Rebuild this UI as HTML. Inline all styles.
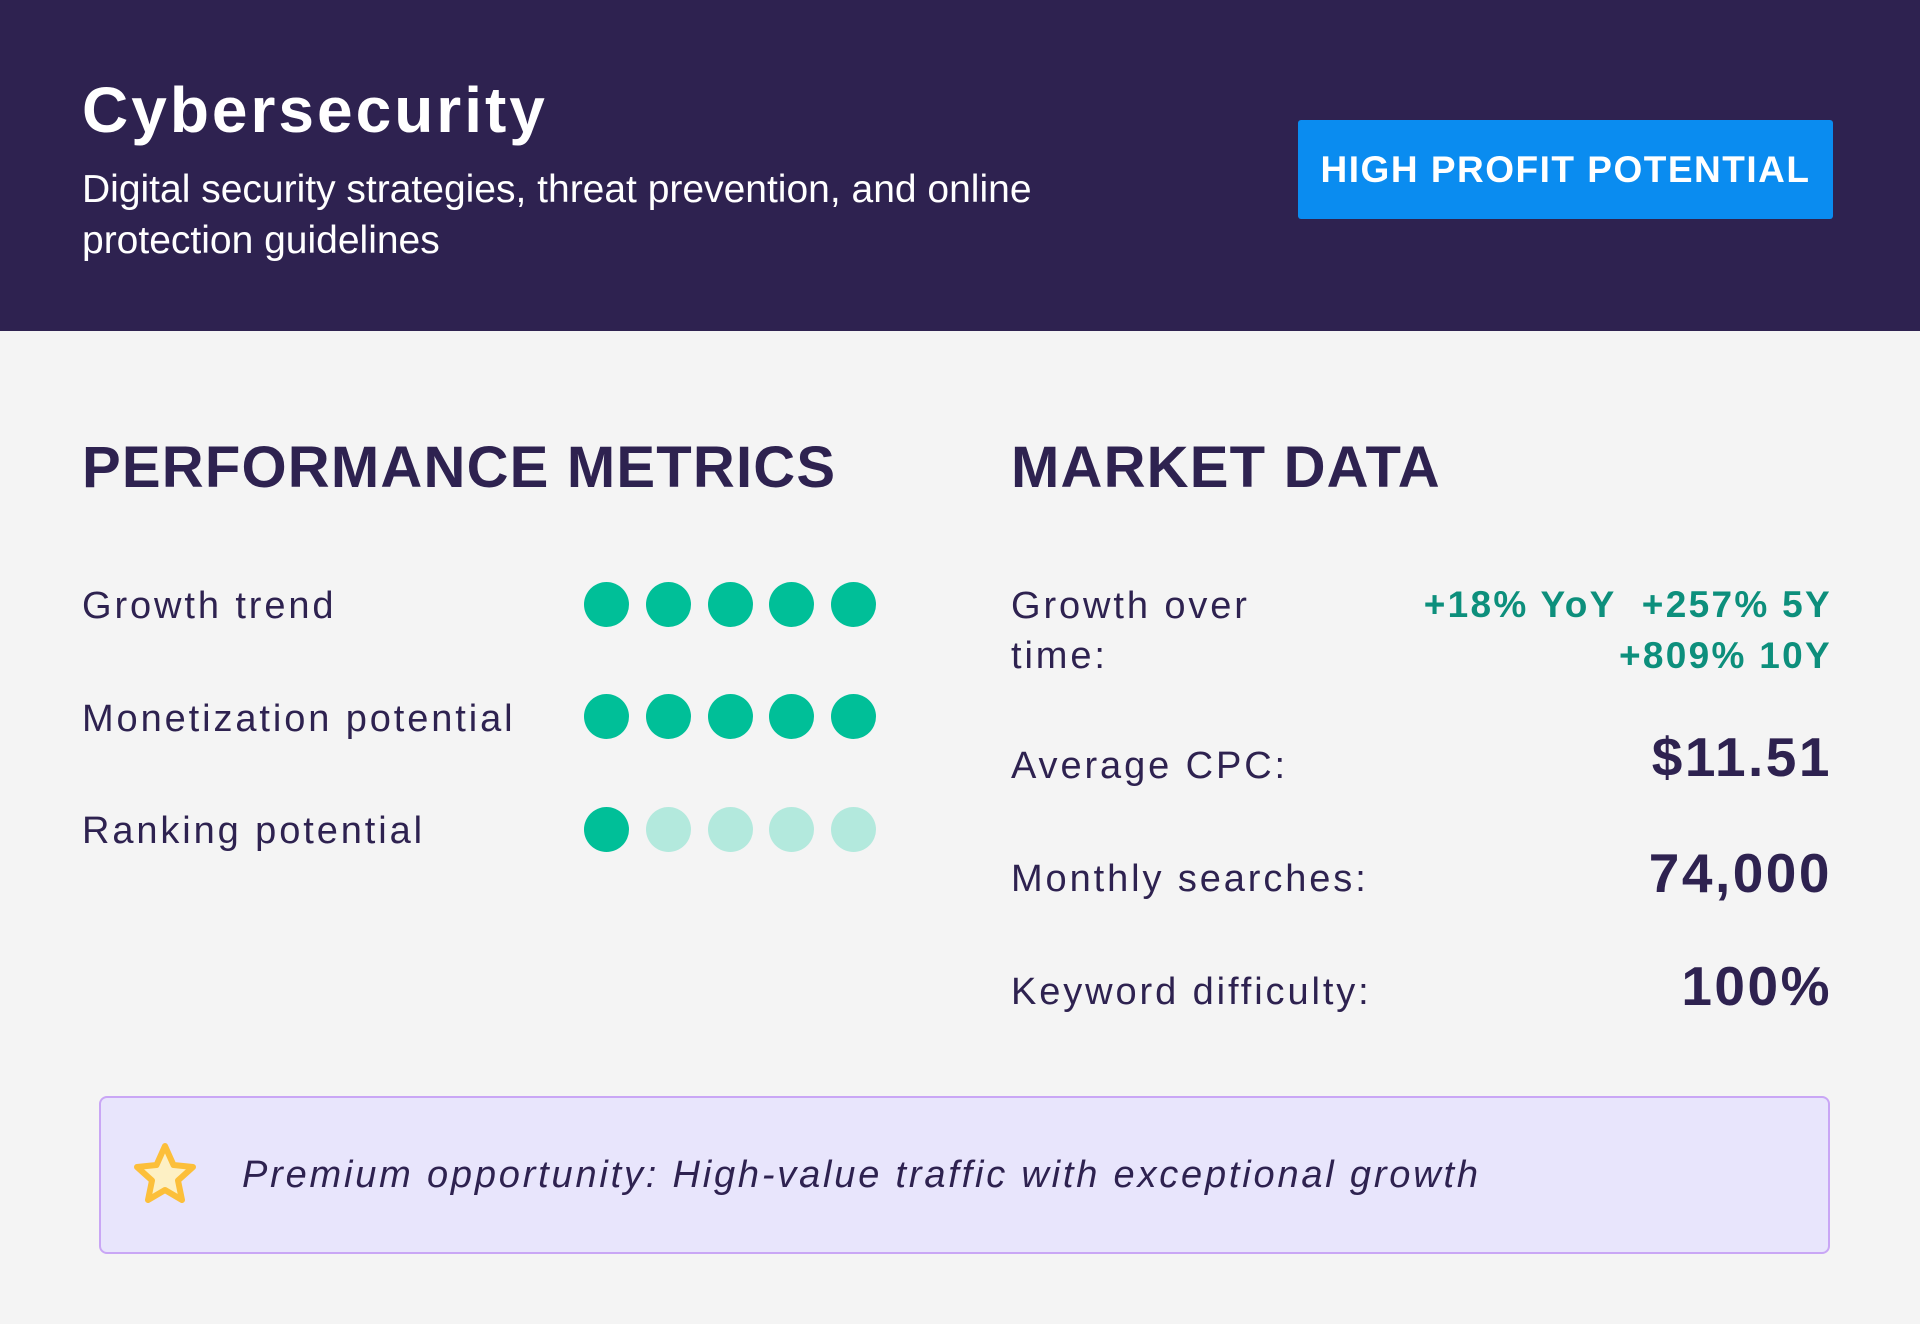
<!DOCTYPE html>
<html><head><meta charset="utf-8"><style>
*{margin:0;padding:0;box-sizing:border-box}
body{width:1920px;height:1324px;background:#f4f4f4;font-family:"Liberation Sans",sans-serif;color:#2e2250;position:relative;overflow:hidden}
.hdr{position:absolute;left:0;top:0;width:1920px;height:331px;background:#2e2250}
.a{position:absolute;white-space:nowrap}
.lab{font-size:38px;letter-spacing:2.9px;line-height:50px}
.dot{position:absolute;width:45px;height:45px;border-radius:50%;background:#00bf98}
.dot.l{background:#b3e9dd}
.val{font-size:55px;font-weight:bold;letter-spacing:2.5px;right:88px;line-height:60px}
.g{font-size:37px;font-weight:bold;color:#0d8f7c;letter-spacing:2.3px;right:88px;line-height:50px}
</style></head><body>
<div class="hdr"></div>
<div class="a" style="left:82px;top:72px;font-size:64px;font-weight:bold;color:#fff;letter-spacing:3px;line-height:76px">Cybersecurity</div>
<div class="a" style="left:82px;top:164px;font-size:39px;color:#fff;line-height:51px;white-space:normal;width:1100px">Digital security strategies, threat prevention, and online<br>protection guidelines</div>
<div class="a" style="left:1298px;top:120px;width:535px;height:99px;background:#0a8cf0;border-radius:3px;color:#fff;font-size:37px;font-weight:bold;letter-spacing:1.5px;display:flex;align-items:center;justify-content:center">HIGH PROFIT POTENTIAL</div>

<div class="a" style="left:82px;top:436px;font-size:58px;font-weight:bold;letter-spacing:1.2px;line-height:64px">PERFORMANCE METRICS</div>
<div class="a" style="left:1011px;top:436px;font-size:58px;font-weight:bold;letter-spacing:1.2px;line-height:64px">MARKET DATA</div>

<div class="a lab" style="left:82px;top:581px">Growth trend</div>
<div class="a lab" style="left:82px;top:694px">Monetization potential</div>
<div class="a lab" style="left:82px;top:806px">Ranking potential</div>

<div class="dot" style="left:584px;top:582px"></div><div class="dot" style="left:646px;top:582px"></div><div class="dot" style="left:708px;top:582px"></div><div class="dot" style="left:769px;top:582px"></div><div class="dot" style="left:831px;top:582px"></div>
<div class="dot" style="left:584px;top:694px"></div><div class="dot" style="left:646px;top:694px"></div><div class="dot" style="left:708px;top:694px"></div><div class="dot" style="left:769px;top:694px"></div><div class="dot" style="left:831px;top:694px"></div>
<div class="dot" style="left:584px;top:807px"></div><div class="dot l" style="left:646px;top:807px"></div><div class="dot l" style="left:708px;top:807px"></div><div class="dot l" style="left:769px;top:807px"></div><div class="dot l" style="left:831px;top:807px"></div>

<div class="a lab" style="left:1011px;top:581px">Growth over<br>time:</div>
<div class="a g" style="top:580px">+18% YoY&nbsp; +257% 5Y</div>
<div class="a g" style="top:631px">+809% 10Y</div>

<div class="a lab" style="left:1011px;top:741px">Average CPC:</div>
<div class="a val" style="top:727px">$11.51</div>
<div class="a lab" style="left:1011px;top:854px">Monthly searches:</div>
<div class="a val" style="top:843px">74,000</div>
<div class="a lab" style="left:1011px;top:967px">Keyword difficulty:</div>
<div class="a val" style="top:956px">100%</div>

<div class="a" style="left:99px;top:1096px;width:1731px;height:158px;background:#e8e5fc;border:2px solid #c9a6f5;border-radius:8px"></div>
<svg class="a" style="left:130px;top:1140px" width="70" height="70" viewBox="0 0 70 70"><polygon points="35,6 43.5,25 63,27 48,40.5 52,60 35,50 18,60 22,40.5 7,27 26.5,25" fill="#fdf0c4" stroke="#fcbf3a" stroke-width="6" stroke-linejoin="round"/></svg>
<div class="a" style="left:242px;top:1150px;font-size:38px;font-style:italic;letter-spacing:2.8px;line-height:50px">Premium opportunity: High-value traffic with exceptional growth</div>
</body></html>
